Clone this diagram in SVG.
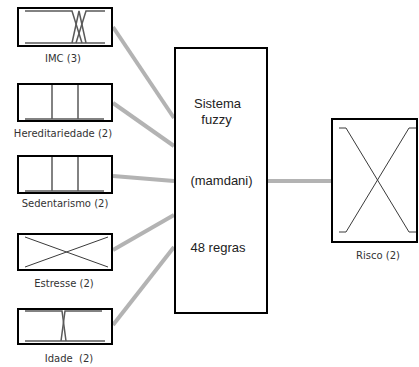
<svg xmlns="http://www.w3.org/2000/svg" width="419" height="367" viewBox="0 0 419 367">
<style>
.box{fill:#fff;stroke:#000;stroke-width:2}
.mf{fill:none;stroke:#5a5a5a;stroke-width:1.5}
.mfd{fill:none;stroke:#3a3a3a;stroke-width:1}
.conn{stroke:#b3b3b3;stroke-width:4;fill:none;stroke-linecap:butt}
.lbl{font-family:"DejaVu Sans",Verdana,sans-serif;font-size:10px;fill:#333;text-anchor:middle;white-space:pre}
.sys{font-family:"Liberation Sans",Arial,sans-serif;font-size:13px;fill:#222;text-anchor:middle}
</style>
<rect width="419" height="367" fill="#fff"/>
<g id="connectors">
<line class="conn" x1="113" y1="27" x2="174" y2="118"/>
<line class="conn" x1="113" y1="103" x2="174" y2="146"/>
<line class="conn" x1="113" y1="176" x2="174" y2="181"/>
<line class="conn" x1="113" y1="250" x2="174" y2="215"/>
<line class="conn" x1="113" y1="325" x2="174" y2="247"/>
<line class="conn" x1="268" y1="181" x2="331" y2="181"/>
</g>
<g id="imc">
<rect class="box" x="18" y="8" width="94" height="38"/>
<path class="mf" d="M25 11H72L82 43"/>
<path class="mf" d="M72 43L79 11L86 43"/>
<path class="mf" d="M76 43L86 11H105"/>
<line class="mf" x1="25" y1="43" x2="105" y2="43"/>
<text class="lbl" x="63" y="62">IMC (3)</text>
</g>
<g id="hereditariedade">
<rect class="box" x="18" y="84" width="94" height="37"/>
<path class="mf" d="M52 85V119M78 85V119M25 119H104"/>
<text class="lbl" x="63" y="137">Hereditariedade (2)</text>
</g>
<g id="sedentarismo">
<rect class="box" x="18" y="156" width="94" height="37"/>
<path class="mf" d="M52 157V191M78 157V191M25 191H104"/>
<text class="lbl" x="65" y="207">Sedentarismo (2)</text>
</g>
<g id="estresse">
<rect class="box" x="18" y="234" width="94" height="36"/>
<path class="mfd" d="M25 237L108 267M25 267L108 237"/>
<text class="lbl" x="64" y="287">Estresse (2)</text>
</g>
<g id="idade">
<rect class="box" x="18" y="309" width="94" height="35"/>
<path class="mf" d="M25 311H62L66 341"/>
<path class="mf" d="M61 341L65 311H102"/>
<line class="mf" x1="25" y1="341" x2="105" y2="341"/>
<text class="lbl" x="69" y="362">Idade  (2)</text>
</g>
<g id="sistema">
<rect class="box" x="175" y="48" width="92" height="265"/>
<text class="sys" x="217.5" y="108">Sistema</text>
<text class="sys" x="216.5" y="124">fuzzy</text>
<text class="sys" x="221.5" y="185">(mamdani)</text>
<text class="sys" x="218" y="252">48 regras</text>
</g>
<g id="risco">
<rect class="box" x="332" y="119" width="85" height="123"/>
<path class="mfd" d="M339 128H346L409 232H416"/>
<path class="mfd" d="M339 232H346L409 128H416"/>
<text class="lbl" x="378" y="259">Risco (2)</text>
</g>
</svg>
